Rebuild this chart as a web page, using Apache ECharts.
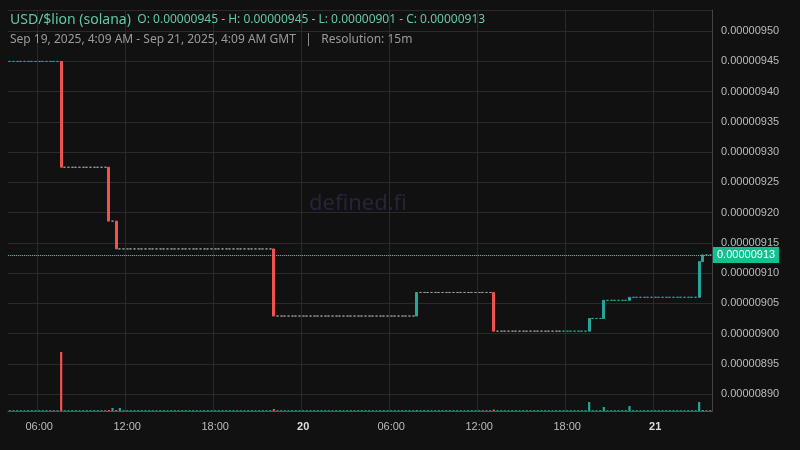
<!DOCTYPE html>
<html>
<head>
<meta charset="utf-8">
<script src="https://cdn.jsdelivr.net/npm/echarts@6/dist/echarts.min.js"></script>
<style>
html,body{margin:0;padding:0;background:#111111;}
#chart{width:800px;height:450px;}
</style>
</head>
<body>
<div id="chart"></div>
<script>
// prices in units of 1e-8 USD, 15m candles from Sep 19 04:00 GMT
const startLevel = 945;
const candleCount = 192;
// [candle index, open, close]
const moves = [
    [14, 945, 927.5],
    [27, 927.5, 918.6],
    [29, 918.6, 914],
    [72, 914, 902.9],
    [111, 902.9, 906.8],
    [132, 906.8, 900.4],
    [158, 900.4, 902.5],
    [162, 902.5, 905.5],
    [169, 905.5, 906],
    [188, 906, 911.9],
    [189, 911.9, 913]
];
// [candle index, volume]
const volumeSpikes = [
    [14, 59], [28, 3], [30, 3], [72, 2], [132, 1.5],
    [158, 9], [162, 4], [169, 5], [188, 9]
];
const lastPrice = 913;

const up = '#26a69a', down = '#ef5350', flat = '#9a9a9a';

const times = [], candles = [], volumes = [];
let level = startLevel;
const moveMap = {}; moves.forEach(m => moveMap[m[0]] = m);
const volMap = {}; volumeSpikes.forEach(v => volMap[v[0]] = v[1]);
for (let i = 0; i < candleCount; i++) {
    const mins = 4 * 60 + i * 15;
    const day = 19 + Math.floor(mins / 1440);
    const h = Math.floor((mins % 1440) / 60), m = mins % 60;
    times.push(day + ' ' + String(h).padStart(2, '0') + ':' + String(m).padStart(2, '0'));
    const mv = moveMap[i];
    if (mv) {
        const dir = mv[2] >= mv[1] ? 'up' : 'down';
        candles.push({ value: [mv[1], mv[2], Math.min(mv[1], mv[2]), Math.max(mv[1], mv[2])] });
        volumes.push({ value: volMap[i] || 1, itemStyle: { color: dir === 'up' ? up : down } });
        level = mv[2];
    } else {
        const c = (i < 14 || i > 150) ? up : flat;
        candles.push({ value: [level, level, level, level], itemStyle: { color: c, color0: c, borderColor: c, borderColor0: c } });
        volumes.push({ value: volMap[i] || 0.8, itemStyle: { color: up } });
    }
}

function tickLabel(i) {
    const t = times[i].split(' ');
    if (t[1] === '00:00') return '{b|' + t[0] + '}';
    return t[1];
}
function isMajor(i) {
    const hm = times[i].split(' ')[1];
    return hm === '00:00' || hm === '06:00' || hm === '12:00' || hm === '18:00';
}

const chart = echarts.init(document.getElementById('chart'));
chart.setOption({
    backgroundColor: '#111111',
    animation: false,
    graphic: [
        { type: 'text', left: 10, top: 13, z: 100, style: { rich: {
            a: { fill: '#5fc9a8', fontSize: 14, fontFamily: 'Noto Sans' },
            b: { fill: '#5fc9a8', fontSize: 12, fontFamily: 'Noto Sans' } },
            text: '{a|USD/$lion (solana)} {b| O: 0.00000945 - H: 0.00000945 - L: 0.00000901 - C: 0.00000913}' } },
        { type: 'text', left: 10, top: 34, z: 100, style: { fill: '#9a9a9a', fontSize: 12, fontFamily: 'Noto Sans',
            text: 'Sep 19, 2025, 4:09 AM - Sep 21, 2025, 4:09 AM GMT   |   Resolution: 15m' } },
        { type: 'text', left: 309, top: 193, z: 0, style: { fill: '#25253a', fontSize: 22, fontFamily: 'Noto Sans', text: 'defined.fi' } }
    ],
    grid: [
        { left: 8, right: 88, top: 10, bottom: 39 },
        { left: 8, right: 88, bottom: 39, height: 100 }
    ],
    xAxis: [
        { type: 'category', data: times, gridIndex: 0, boundaryGap: true,
          axisLine: { show: true, lineStyle: { color: '#555' } }, axisTick: { show: false },
          axisLabel: { show: true, color: '#bbb', fontSize: 11, margin: 10, interval: (i) => isMajor(i),
              formatter: (v, i) => tickLabel(i), rich: { b: { fontWeight: 'bold', color: '#ddd', fontSize: 11 } } },
          splitLine: { show: true, interval: (i) => isMajor(i), lineStyle: { color: '#2a2a2a' } } },
        { type: 'category', data: times, gridIndex: 1, show: false }
    ],
    yAxis: [
        { type: 'value', position: 'right', gridIndex: 0, min: 887.2, max: 953.5, splitNumber: 13, scale: true,
          axisLine: { show: true, lineStyle: { color: '#444' } }, axisTick: { show: false },
          axisLabel: { color: '#bbb', fontSize: 11, margin: 9, showMinLabel: false, showMaxLabel: false,
              formatter: v => (v * 1e-8).toFixed(8) },
          splitLine: { lineStyle: { color: '#2a2a2a' } } },
        { type: 'value', gridIndex: 1, min: 0, max: 100, show: false }
    ],
    series: [
        { type: 'candlestick', xAxisIndex: 0, yAxisIndex: 0, data: candles, barWidth: '70%',
          itemStyle: { color: up, color0: down, borderColor: up, borderColor0: down, borderWidth: 1 },
          markLine: { symbol: 'none', silent: true,
              lineStyle: { color: '#16c79a', type: 'dotted', width: 1, opacity: 1 },
              emphasis: { lineStyle: { color: '#16c79a' } },
              label: { position: 'end', formatter: () => (lastPrice * 1e-8).toFixed(8), color: '#fff',
                  backgroundColor: '#13c08f', padding: [3, 4, 2, 4], fontSize: 11, distance: 1 },
              data: [{ yAxis: lastPrice, lineStyle: { color: '#16c79a' } }] } },
        { type: 'bar', xAxisIndex: 1, yAxisIndex: 1, data: volumes, barWidth: '60%' }
    ]
});
</script>
</body>
</html>
